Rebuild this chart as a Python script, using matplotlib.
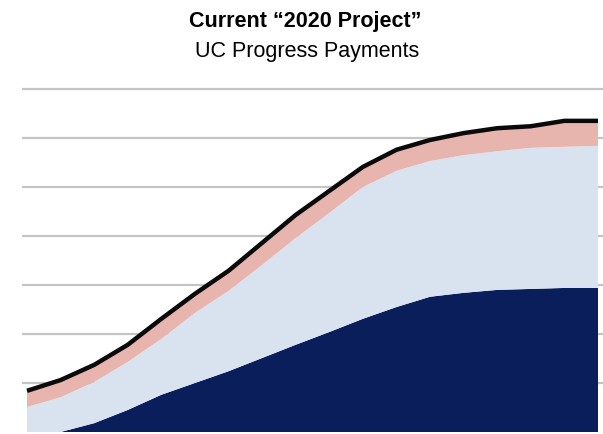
import numpy as np
import matplotlib.pyplot as plt

plt.rcParams['font.family'] = ['Liberation Sans', 'DejaVu Sans']

# period index (quarters along the project)
periods = np.arange(18)

# stacked layers (arbitrary units)
uc_paid = [0.00, 0.00, 0.18, 0.45, 0.76, 1.00, 1.24, 1.51, 1.78, 2.04,
           2.31, 2.55, 2.76, 2.84, 2.90, 2.92, 2.94, 2.94]
top_of_middle = [0.51, 0.71, 1.02, 1.43, 1.90, 2.43, 2.88, 3.41, 3.96, 4.47,
                 5.00, 5.33, 5.53, 5.65, 5.73, 5.80, 5.82, 5.84]
total = [0.84, 1.06, 1.37, 1.78, 2.31, 2.82, 3.29, 3.86, 4.43, 4.92,
         5.41, 5.76, 5.96, 6.10, 6.20, 6.24, 6.35, 6.35]

middle = np.array(top_of_middle) - np.array(uc_paid)
upper = np.array(total) - np.array(top_of_middle)

fig = plt.figure(figsize=(6.03, 4.35), dpi=100)
ax = fig.add_axes([22 / 603, 2 / 435, 581 / 603, (433 - 86) / 435])

ax.stackplot(periods, uc_paid, middle, upper,
             colors=['#0a1e5b', '#d9e3ef', '#e8b4ae'], linewidth=0, zorder=2)
ax.plot(periods, total, color='#0a0a0a', linewidth=3.2, zorder=3,
        solid_capstyle='butt')

px = 571 / 17
ax.set_xlim(-5 / px, 17 + 5 / px)
ax.set_ylim(0, 7 + 4 / 49)
ax.set_yticks(range(1, 8))
ax.set_xticks([])
ax.tick_params(left=False, labelleft=False)
ax.grid(axis='y', color='#c4c4c4', linewidth=1.6, zorder=1)
ax.set_axisbelow(True)
for s in ax.spines.values():
    s.set_visible(False)

fig.text(305 / 603, 1 - 27 / 435, 'Current \u201c2020 Project\u201d',
         ha='center', va='baseline', fontsize=15.5, fontweight='bold')
fig.text(307 / 603, 1 - 57 / 435, 'UC Progress Payments',
         ha='center', va='baseline', fontsize=15.5)

fig.savefig('out.png', dpi=100)
